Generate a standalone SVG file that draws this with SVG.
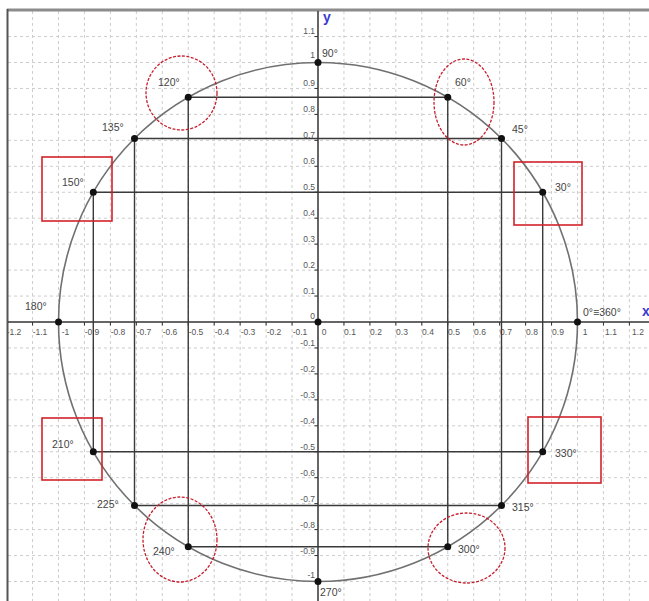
<svg xmlns="http://www.w3.org/2000/svg" width="649" height="601" viewBox="0 0 649 601">
<defs>
<style>
.grid{stroke:#cdcdcd;stroke-width:1;stroke-dasharray:3,3;fill:none}
.axis{stroke:#333;stroke-width:1.5;fill:none}
.tick{stroke:#333;stroke-width:1;fill:none}
.circ{stroke:#707070;stroke-width:1.6;fill:none}
.proj{stroke:#3a3a3a;stroke-width:1.4;fill:none}
.dot{fill:#111}
.num{font-family:"Liberation Sans",Arial,sans-serif;font-size:8.5px;fill:#555}
.numx{text-anchor:middle}
.numy{text-anchor:end}
.ang{font-family:"Liberation Sans",Arial,sans-serif;font-size:10.5px;fill:#444}
.axl{font-family:"Liberation Sans",Arial,sans-serif;font-size:14px;font-weight:bold;fill:#3a3ad0}
.rbox{fill:none;stroke:#d2232a;stroke-width:1.6}
.rell{fill:none;stroke:#c81e2c;stroke-width:1.3;stroke-dasharray:3,1.5}
</style>
</defs>
<rect x="0" y="0" width="649" height="601" fill="#fff"/>
<g id="grid">
<path class="grid" d="M32.55 11V601M58.5 11V601M84.45 11V601M110.4 11V601M136.35 11V601M162.3 11V601M188.25 11V601M214.2 11V601M240.15 11V601M266.1 11V601M292.05 11V601M343.95 11V601M369.9 11V601M395.85 11V601M421.8 11V601M447.75 11V601M473.7 11V601M499.65 11V601M525.6 11V601M551.55 11V601M577.5 11V601M603.45 11V601M629.4 11V601"/>
<path class="grid" d="M8 36.55H649M8 62.5H649M8 88.45H649M8 114.4H649M8 140.35H649M8 166.3H649M8 192.25H649M8 218.2H649M8 244.15H649M8 270.1H649M8 296.05H649M8 347.95H649M8 373.9H649M8 399.85H649M8 425.8H649M8 451.75H649M8 477.7H649M8 503.65H649M8 529.6H649M8 555.55H649M8 581.5H649"/>
</g>
<g id="frame">
<line x1="7" y1="10" x2="649" y2="10" stroke="#8c8c8c" stroke-width="3"/>
<line x1="7.5" y1="9" x2="7.5" y2="601" stroke="#555" stroke-width="2"/>
</g>
<g id="axes">
<line class="axis" x1="8" y1="322" x2="649" y2="322"/>
<line class="axis" x1="318" y1="11" x2="318" y2="601"/>
<path class="tick" d="M32.55 322V325.5M58.5 322V325.5M84.45 322V325.5M110.4 322V325.5M136.35 322V325.5M162.3 322V325.5M188.25 322V325.5M214.2 322V325.5M240.15 322V325.5M266.1 322V325.5M292.05 322V325.5M343.95 322V325.5M369.9 322V325.5M395.85 322V325.5M421.8 322V325.5M447.75 322V325.5M473.7 322V325.5M499.65 322V325.5M525.6 322V325.5M551.55 322V325.5M577.5 322V325.5M603.45 322V325.5M629.4 322V325.5"/>
<path class="tick" d="M314.5 36.55H318M314.5 62.5H318M314.5 88.45H318M314.5 114.4H318M314.5 140.35H318M314.5 166.3H318M314.5 192.25H318M314.5 218.2H318M314.5 244.15H318M314.5 270.1H318M314.5 296.05H318M314.5 347.95H318M314.5 373.9H318M314.5 399.85H318M314.5 425.8H318M314.5 451.75H318M314.5 477.7H318M314.5 503.65H318M314.5 529.6H318M314.5 555.55H318M314.5 581.5H318"/>
<g class="num numx">
<text x="14" y="335">-1.2</text>
<text x="40" y="335">-1.1</text>
<text x="65.5" y="335">-1</text>
<text x="92" y="335">-0.9</text>
<text x="118" y="335">-0.8</text>
<text x="144" y="335">-0.7</text>
<text x="170" y="335">-0.6</text>
<text x="196" y="335">-0.5</text>
<text x="222" y="335">-0.4</text>
<text x="248" y="335">-0.3</text>
<text x="274" y="335">-0.2</text>
<text x="300" y="335">-0.1</text>
<text x="324" y="335">0</text>
<text x="350" y="335">0.1</text>
<text x="376" y="335">0.2</text>
<text x="402" y="335">0.3</text>
<text x="428" y="335">0.4</text>
<text x="454" y="335">0.5</text>
<text x="480" y="335">0.6</text>
<text x="506" y="335">0.7</text>
<text x="532" y="335">0.8</text>
<text x="558" y="335">0.9</text>
<text x="585" y="335">1</text>
<text x="611" y="335">1.1</text>
<text x="638" y="335">1.2</text>
</g>
<g class="num numy">
<text x="315" y="34">1.1</text>
<text x="315" y="58">1</text>
<text x="315" y="86">0.9</text>
<text x="315" y="112">0.8</text>
<text x="315" y="138">0.7</text>
<text x="315" y="164">0.6</text>
<text x="315" y="190">0.5</text>
<text x="315" y="216">0.4</text>
<text x="315" y="242">0.3</text>
<text x="315" y="268">0.2</text>
<text x="315" y="294">0.1</text>
<text x="315" y="319">0</text>
<text x="315" y="346">-0.1</text>
<text x="315" y="372">-0.2</text>
<text x="315" y="398">-0.3</text>
<text x="315" y="424">-0.4</text>
<text x="315" y="450">-0.5</text>
<text x="315" y="476">-0.6</text>
<text x="315" y="502">-0.7</text>
<text x="315" y="528">-0.8</text>
<text x="315" y="554">-0.9</text>
<text x="315" y="578">-1</text>
</g>
<text class="axl" x="323" y="22">y</text>
<text class="axl" x="642" y="316">x</text>
</g>
<circle class="circ" cx="318" cy="322" r="259.5"/>
<g id="connectors">
<path class="proj" d="M188.25 97.3H447.75M134.5 138.5H501.5M93.3 192.25H542.7M93.3 451.75H542.7M134.5 505.5H501.5M188.25 546.7H447.75"/>
<path class="proj" d="M188.25 97.3V546.7M134.5 138.5V505.5M93.3 192.25V451.75M447.75 97.3V546.7M501.5 138.5V505.5M542.7 192.25V451.75"/>
</g>
<g id="origin"><circle class="dot" cx="318" cy="322" r="3.5"/></g>
<g id="p0"><circle class="dot" cx="577.5" cy="322" r="3.5"/><text class="ang" x="583" y="316">0°≡360°</text></g>
<g id="p30"><circle class="dot" cx="542.7" cy="192.25" r="3.5"/><text class="ang" x="555" y="191">30°</text></g>
<g id="p45"><circle class="dot" cx="501.5" cy="138.5" r="3.5"/><text class="ang" x="512" y="133">45°</text></g>
<g id="p60"><circle class="dot" cx="447.75" cy="97.3" r="3.5"/><text class="ang" x="455" y="86">60°</text></g>
<g id="p90"><circle class="dot" cx="318" cy="62.5" r="3.5"/><text class="ang" x="322" y="57">90°</text></g>
<g id="p120"><circle class="dot" cx="188.25" cy="97.3" r="3.5"/><text class="ang" x="158" y="86">120°</text></g>
<g id="p135"><circle class="dot" cx="134.5" cy="138.5" r="3.5"/><text class="ang" x="102" y="131">135°</text></g>
<g id="p150"><circle class="dot" cx="93.3" cy="192.25" r="3.5"/><text class="ang" x="62" y="186">150°</text></g>
<g id="p180"><circle class="dot" cx="58.5" cy="322" r="3.5"/><text class="ang" x="25" y="310">180°</text></g>
<g id="p210"><circle class="dot" cx="93.3" cy="451.75" r="3.5"/><text class="ang" x="52" y="448">210°</text></g>
<g id="p225"><circle class="dot" cx="134.5" cy="505.5" r="3.5"/><text class="ang" x="97" y="508">225°</text></g>
<g id="p240"><circle class="dot" cx="188.25" cy="546.7" r="3.5"/><text class="ang" x="153" y="555">240°</text></g>
<g id="p270"><circle class="dot" cx="318" cy="581.5" r="3.5"/><text class="ang" x="320" y="596">270°</text></g>
<g id="p300"><circle class="dot" cx="447.75" cy="546.7" r="3.5"/><text class="ang" x="458" y="553">300°</text></g>
<g id="p315"><circle class="dot" cx="501.5" cy="505.5" r="3.5"/><text class="ang" x="512" y="511">315°</text></g>
<g id="p330"><circle class="dot" cx="542.7" cy="451.75" r="3.5"/><text class="ang" x="555" y="457">330°</text></g>
<g id="mark150"><rect class="rbox" x="42" y="157" width="70" height="64"/></g>
<g id="mark30"><rect class="rbox" x="514" y="162" width="68" height="63"/></g>
<g id="mark210"><rect class="rbox" x="42" y="418" width="60" height="62"/></g>
<g id="mark330"><rect class="rbox" x="528" y="417" width="73" height="66"/></g>
<g id="mark120"><ellipse class="rell" cx="181.5" cy="93" rx="35.5" ry="37"/></g>
<g id="mark60"><ellipse class="rell" cx="464" cy="102" rx="30" ry="43"/></g>
<g id="mark240"><ellipse class="rell" cx="180" cy="539.5" rx="37" ry="42.5"/></g>
<g id="mark300"><ellipse class="rell" cx="466.5" cy="548" rx="38.5" ry="35"/></g>
</svg>
